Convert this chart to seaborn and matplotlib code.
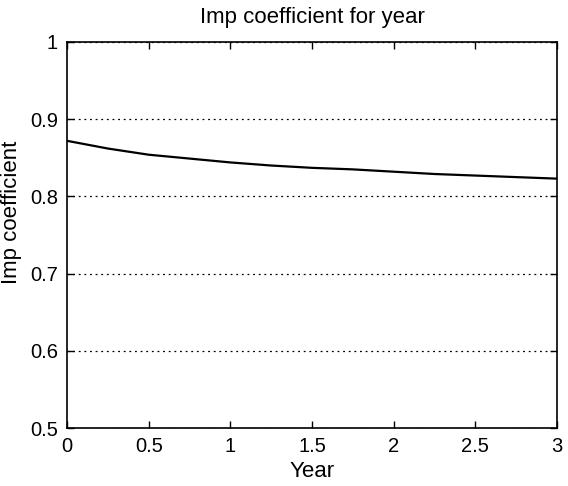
import matplotlib
matplotlib.use("Agg")
import matplotlib.pyplot as plt
import seaborn as sns
import pandas as pd

years = [0.0, 0.25, 0.5, 0.75, 1.0, 1.25, 1.5, 1.75, 2.0, 2.25, 2.5, 2.75, 3.0]
imp_coef = [0.872, 0.862, 0.854, 0.849, 0.844, 0.840, 0.837, 0.835, 0.832, 0.829, 0.827, 0.825, 0.823]
x_ticks = [0, 0.5, 1, 1.5, 2, 2.5, 3]
x_tick_labels = ["0", "0.5", "1", "1.5", "2", "2.5", "3"]
y_ticks = [0.5, 0.6, 0.7, 0.8, 0.9, 1.0]
y_tick_labels = ["0.5", "0.6", "0.7", "0.8", "0.9", "1"]

sns.set_theme(style="white")
plt.rcParams['font.family'] = ['Liberation Sans', 'DejaVu Sans']

df = pd.DataFrame({"Year": years, "Imp": imp_coef})

fig = plt.figure(figsize=(5.68, 4.86), dpi=100)
ax = fig.add_axes([0.118, 0.1193, 0.8627, 0.7943])
sns.lineplot(data=df, x="Year", y="Imp", ax=ax, color="black", linewidth=1.6)

ax.set_xlim(0, 3)
ax.set_ylim(0.5, 1.0)
ax.set_xticks(x_ticks)
ax.set_xticklabels(x_tick_labels)
ax.set_yticks(y_ticks)
ax.set_yticklabels(y_tick_labels)
ax.tick_params(direction="in", length=5, width=1, colors="black", labelsize=14.5,
               top=True, right=True, bottom=True, left=True, pad=6.5)
ax.yaxis.grid(True, linestyle=(0, (1.5, 3)), color="black", linewidth=0.9)
ax.xaxis.grid(False)
for s in ax.spines.values():
    s.set_color("black")
    s.set_linewidth(1.2)

ax.set_title("Imp coefficient for year", fontsize=16, color="black", pad=13.5)
ax.set_xlabel("Year", fontsize=16, color="black")
ax.set_ylabel("Imp coefficient", fontsize=16, color="black")
ax.xaxis.set_label_coords(0.5, -0.085)
ax.yaxis.set_label_coords(-0.092, 0.56)

fig.savefig("out.png", dpi=100, facecolor="white")
